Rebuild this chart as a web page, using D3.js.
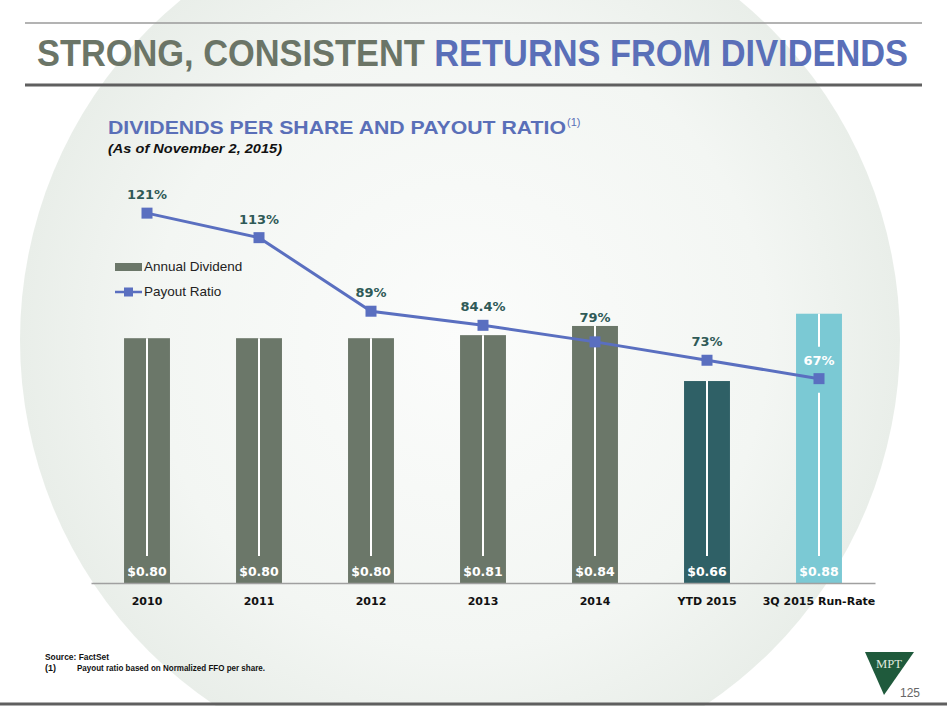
<!DOCTYPE html>
<html>
<head>
<meta charset="utf-8">
<script src="https://cdn.jsdelivr.net/npm/d3@7"></script>
<style>
  html, body { margin: 0; padding: 0; background: #fff; }
  svg { display: block; }
</style>
</head>
<body>
<div id="chart"></div>
<script>
!(function(){
    "use strict"

    var categories = ["2010", "2011", "2012", "2013", "2014", "YTD 2015", "3Q 2015 Run-Rate"]
    var dividends = [0.80, 0.80, 0.80, 0.81, 0.84, 0.66, 0.88]
    var dividendLabels = ["$0.80", "$0.80", "$0.80", "$0.81", "$0.84", "$0.66", "$0.88"]
    var payout = [121, 113, 89, 84.4, 79, 73, 67]
    var payoutLabels = ["121%", "113%", "89%", "84.4%", "79%", "73%", "67%"]
    var barColors = ["#6b7769", "#6b7769", "#6b7769", "#6b7769", "#6b7769", "#2f6066", "#7bc9d4"]

    var width = 947, height = 706
    var sans = "'Liberation Sans', Arial, sans-serif"
    var heavy = "'DejaVu Sans', 'Liberation Sans', sans-serif"

    var svg = d3.select("#chart").append("svg")
        .attr("width", width).attr("height", height)

    // faint globe in the background
    var defs = svg.append("defs")
    var grad = defs.append("radialGradient").attr("id", "globe")
        .attr("cx", "50%").attr("cy", "50%").attr("r", "50%")
    grad.append("stop").attr("offset", "0%").attr("stop-color", "#fbfcfb")
    grad.append("stop").attr("offset", "70%").attr("stop-color", "#f3f6f3")
    grad.append("stop").attr("offset", "100%").attr("stop-color", "#e9eee9")
    svg.append("circle")
        .attr("cx", 460).attr("cy", 340).attr("r", 440)
        .attr("fill", "url(#globe)")

    // header rules + title
    svg.append("line").attr("x1", 25).attr("x2", 922).attr("y1", 23).attr("y2", 23)
        .attr("stroke", "#9a9a9a").attr("stroke-width", 1.5)
    svg.append("line").attr("x1", 25).attr("x2", 922).attr("y1", 85).attr("y2", 85)
        .attr("stroke", "#5f5f5f").attr("stroke-width", 3)

    var title = svg.append("text")
        .attr("x", 37).attr("y", 66)
        .attr("textLength", 871).attr("lengthAdjust", "spacingAndGlyphs")
        .style("font-family", sans).style("font-weight", "bold").style("font-size", "36px")
    title.append("tspan").attr("fill", "#6b7567").text("STRONG, CONSISTENT ")
    title.append("tspan").attr("fill", "#5a6fb8").text("RETURNS FROM DIVIDENDS")

    var sub = svg.append("g")
        .style("font-family", sans).style("font-weight", "bold")
        .attr("fill", "#5a6fb8")
    sub.append("text").attr("x", 108).attr("y", 134)
        .attr("textLength", 458).attr("lengthAdjust", "spacingAndGlyphs")
        .style("font-size", "19px")
        .text("DIVIDENDS PER SHARE AND PAYOUT RATIO")
    sub.append("text").attr("x", 567).attr("y", 126)
        .style("font-size", "11px").style("font-weight", "normal")
        .text("(1)")

    svg.append("text")
        .attr("x", 108).attr("y", 153)
        .attr("textLength", 174).attr("lengthAdjust", "spacingAndGlyphs")
        .style("font-family", sans).style("font-weight", "bold").style("font-style", "italic")
        .style("font-size", "13px").attr("fill", "#111")
        .text("(As of November 2, 2015)")

    // scales
    var x = d3.scaleBand()
        .domain(categories)
        .range([91, 875])
        .paddingInner(0.59)
        .paddingOuter(0.295)

    var y = d3.scaleLinear().domain([0, 1]).range([583, 277])
    var y2 = d3.scaleLinear().domain([0, 100]).range([584, 277.5])

    var rows = categories.map(function(c, i) {
        var r = { cat: c, div: dividends[i], divLabel: dividendLabels[i],
                  pr: payout[i], prLabel: payoutLabels[i], color: barColors[i] }
        // label sits 14px above the marker, unless that lands on the bar's top edge
        r.lblY = y2(r.pr) - 14
        if (r.lblY > y(r.div) - 2 && r.lblY < y(r.div) + 16) r.lblY = y(r.div) - 4
        r.inside = r.lblY > y(r.div) + 14
        return r
    })

    var chartLayer = svg.append("g").classed("chartLayer", true)

    // bars
    var bar = chartLayer.selectAll(".bar").data(rows).enter()
        .append("g").classed("bar", true)

    bar.append("rect")
        .attr("x", function(d) { return x(d.cat) })
        .attr("y", function(d) { return y(d.div) })
        .attr("width", x.bandwidth())
        .attr("height", function(d) { return y(0) - y(d.div) })
        .attr("fill", function(d) { return d.color })

    // thin white divider in the middle of each bar (gap where a label sits on it)
    bar.each(function(d) {
        var g = d3.select(this)
        var cx = x(d.cat) + x.bandwidth() / 2
        var top = y(d.div), bottom = y(0) - 27
        var segs = [[top, bottom]]
        if (d.inside) segs = [[top, d.lblY - 18], [y2(d.pr) + 14, bottom]]
        segs.forEach(function(s) {
            if (s[1] <= s[0]) return
            g.append("line")
                .attr("x1", cx).attr("x2", cx).attr("y1", s[0]).attr("y2", s[1])
                .attr("stroke", "#fff").attr("stroke-width", 2)
        })
    })

    bar.append("text")
        .attr("x", function(d) { return x(d.cat) + x.bandwidth() / 2 })
        .attr("y", y(0) - 7)
        .attr("text-anchor", "middle")
        .style("font-family", heavy).style("font-weight", "bold").style("font-size", "12.5px")
        .attr("fill", "#fff")
        .text(function(d) { return d.divLabel })

    // x axis
    var xAxis = d3.axisBottom(x).tickSize(0).tickPadding(14)
    var axisG = chartLayer.append("g")
        .attr("transform", "translate(0," + y(0) + ")")
        .call(xAxis)
    axisG.select(".domain").attr("stroke", "#a0a0a0").attr("stroke-width", 1.5)
    axisG.selectAll("text")
        .style("font-family", heavy).style("font-weight", "bold").style("font-size", "11px")
        .attr("fill", "#111")

    // payout ratio line
    var line = d3.line()
        .x(function(d) { return x(d.cat) + x.bandwidth() / 2 })
        .y(function(d) { return y2(d.pr) })

    chartLayer.append("path")
        .datum(rows)
        .attr("d", line)
        .attr("fill", "none")
        .attr("stroke", "#5a6fc0")
        .attr("stroke-width", 3)

    chartLayer.selectAll(".marker").data(rows).enter()
        .append("rect").classed("marker", true)
        .attr("x", function(d) { return x(d.cat) + x.bandwidth() / 2 - 5.5 })
        .attr("y", function(d) { return y2(d.pr) - 5.5 })
        .attr("width", 11).attr("height", 11)
        .attr("fill", "#5a6fc0")

    chartLayer.selectAll(".prLabel").data(rows).enter()
        .append("text").classed("prLabel", true)
        .attr("x", function(d) { return x(d.cat) + x.bandwidth() / 2 })
        .attr("y", function(d) { return d.lblY })
        .attr("text-anchor", "middle")
        .style("font-family", heavy).style("font-weight", "bold").style("font-size", "13px")
        .attr("fill", function(d) { return d.inside ? "#ffffff" : "#2f5a57" })
        .text(function(d) { return d.prLabel })

    // legend
    var legend = svg.append("g").attr("transform", "translate(115,0)")
    legend.append("rect").attr("x", 0).attr("y", 263).attr("width", 27).attr("height", 8)
        .attr("fill", "#6b7769")
    legend.append("text").attr("x", 29).attr("y", 271)
        .style("font-family", sans).style("font-size", "13.5px").attr("fill", "#222")
        .text("Annual Dividend")
    legend.append("line").attr("x1", 0).attr("x2", 27).attr("y1", 292).attr("y2", 292)
        .attr("stroke", "#5a6fc0").attr("stroke-width", 2.5)
    legend.append("rect").attr("x", 9).attr("y", 287.5).attr("width", 9).attr("height", 9)
        .attr("fill", "#5a6fc0")
    legend.append("text").attr("x", 29).attr("y", 296)
        .style("font-family", sans).style("font-size", "13.5px").attr("fill", "#222")
        .text("Payout Ratio")

    // footnotes
    var foot = svg.append("g")
        .style("font-family", sans).style("font-weight", "bold").style("font-size", "9px")
        .attr("fill", "#111")
    foot.append("text").attr("x", 45).attr("y", 660)
        .attr("textLength", 64).attr("lengthAdjust", "spacingAndGlyphs")
        .text("Source:  FactSet")
    foot.append("text").attr("x", 45).attr("y", 671).text("(1)")
    foot.append("text").attr("x", 77).attr("y", 671)
        .attr("textLength", 188).attr("lengthAdjust", "spacingAndGlyphs")
        .text("Payout ratio based on Normalized FFO per share.")

    // logo + page number
    svg.append("path")
        .attr("d", "M865,652 L914,652 L884,695 Z")
        .attr("fill", "#1f5a3c")
    svg.append("text").attr("x", 889).attr("y", 668).attr("text-anchor", "middle")
        .attr("textLength", 26).attr("lengthAdjust", "spacingAndGlyphs")
        .style("font-family", "'Liberation Serif', serif").style("font-size", "13px")
        .attr("fill", "#dfe8df").text("MPT")
    svg.append("text").attr("x", 900).attr("y", 697)
        .style("font-family", sans).style("font-size", "12px").attr("fill", "#666")
        .text("125")

    svg.append("line").attr("x1", 0).attr("x2", width).attr("y1", 704).attr("y2", 704)
        .attr("stroke", "#5f5f5f").attr("stroke-width", 3)
}());
</script>
</body>
</html>
